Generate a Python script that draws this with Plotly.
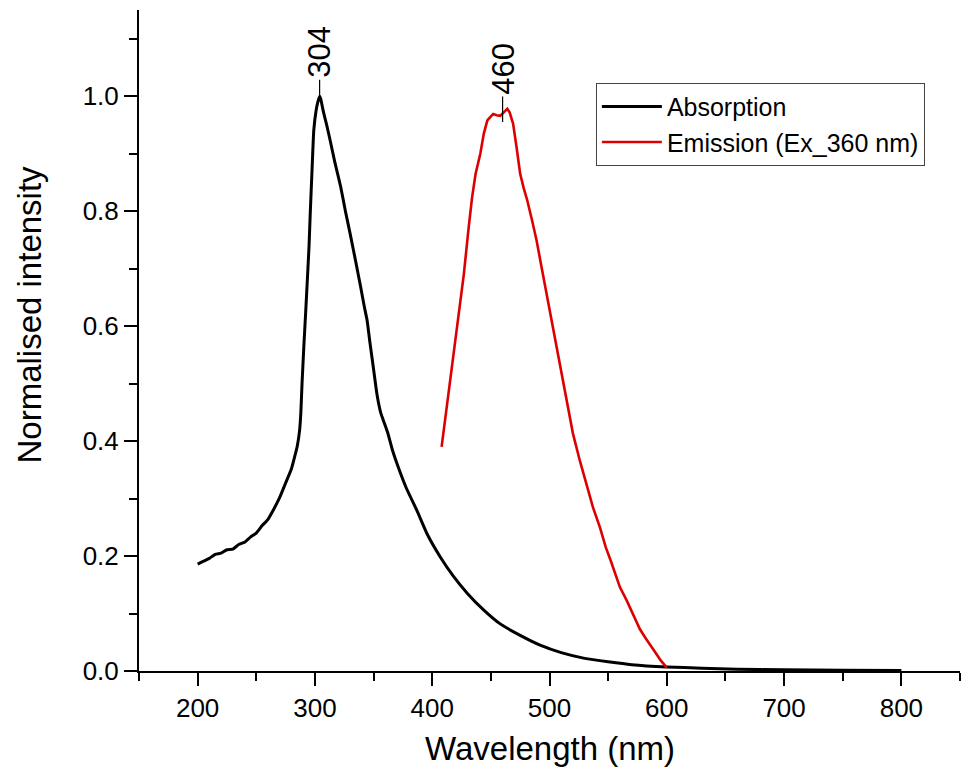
import plotly.graph_objects as go

# Absorption spectrum (wavelength nm, normalised intensity)
abs_wl = [200, 205, 210, 215, 220, 225, 230, 235, 240, 245, 250, 255, 260, 265, 270,
          275, 280, 283, 285, 287, 288, 289, 290.5, 292, 293.5, 295, 296, 297.5, 299,
          301, 302.5, 304, 305, 307, 310, 313, 317, 322, 326, 330, 335, 339, 342,
          344.5, 347, 350, 353, 356, 358, 362, 366, 371, 378, 387, 396, 407, 418,
          430, 444, 458, 475, 492, 510, 530, 550, 570, 600, 630, 660, 700, 750, 800]
abs_val = [0.186, 0.191, 0.196, 0.203, 0.205, 0.211, 0.212, 0.220, 0.224, 0.233, 0.240,
           0.253, 0.264, 0.282, 0.302, 0.327, 0.352, 0.375, 0.392, 0.420, 0.450, 0.500,
           0.563, 0.620, 0.679, 0.740, 0.796, 0.870, 0.940, 0.975, 0.990, 1.000, 0.995,
           0.975, 0.950, 0.923, 0.885, 0.842, 0.800, 0.761, 0.710, 0.668, 0.635, 0.610,
           0.570, 0.525, 0.480, 0.450, 0.438, 0.415, 0.385, 0.355, 0.318, 0.279, 0.237,
           0.198, 0.165, 0.135, 0.106, 0.082, 0.062, 0.045, 0.032, 0.022, 0.016, 0.011,
           0.007, 0.005, 0.003, 0.002, 0.0012, 0.001]

# Emission spectrum (Ex 360 nm)
em_wl = [408, 413, 418, 423, 427, 431, 434, 437, 441, 444, 447, 450, 452, 455, 458,
         461, 464, 466, 469, 472, 475, 478, 481, 485, 489, 493, 498, 503, 509, 515,
         520, 526, 532, 537, 543, 548, 552, 556, 560, 566, 571, 577, 582, 586, 590,
         595, 600]
em_val = [0.390, 0.470, 0.546, 0.625, 0.691, 0.770, 0.824, 0.865, 0.900, 0.935, 0.958,
          0.965, 0.969, 0.967, 0.966, 0.972, 0.978, 0.972, 0.952, 0.910, 0.865, 0.840,
          0.819, 0.785, 0.749, 0.705, 0.650, 0.595, 0.529, 0.470, 0.413, 0.365, 0.320,
          0.285, 0.250, 0.215, 0.193, 0.168, 0.146, 0.122, 0.100, 0.073, 0.057, 0.046,
          0.033, 0.018, 0.006]

# Peak labels
peak_x = [304, 460]
peak_y = [1.0, 0.955]
peak_text = ["304", "460"]
peak_ay = [-44, -53]

x_ticks = [200, 300, 400, 500, 600, 700, 800]
y_ticks = [0.0, 0.2, 0.4, 0.6, 0.8, 1.0]

FONT = "Liberation Sans, Arial, sans-serif"

fig = go.Figure()
fig.add_trace(go.Scatter(x=abs_wl, y=abs_val, mode="lines", name="Absorption",
                         line=dict(color="black", width=3, shape="spline", smoothing=0.4)))
fig.add_trace(go.Scatter(x=em_wl, y=em_val, mode="lines", name="Emission (Ex_360 nm)",
                         line=dict(color="#dd0000", width=2.6)))

for px, py, t, ay in zip(peak_x, peak_y, peak_text, peak_ay):
    fig.add_annotation(x=px, y=py, text=t, textangle=-90, showarrow=True,
                       arrowhead=0, arrowwidth=1.2, arrowcolor="black",
                       ax=0, ay=ay, font=dict(family=FONT, size=31, color="black"))

fig.add_annotation(text="Wavelength (nm)", xref="paper", yref="paper", x=0.5, y=-0.117,
                   xanchor="center", yanchor="middle", showarrow=False,
                   font=dict(family=FONT, size=33, color="black"))
fig.add_annotation(text="Normalised intensity", xref="paper", yref="paper", x=-0.133, y=0.539,
                   xanchor="center", yanchor="middle", showarrow=False, textangle=-90,
                   font=dict(family=FONT, size=33, color="black"))

axis_common = dict(showgrid=False, zeroline=False, showline=True, linecolor="black",
                   linewidth=2, ticks="outside", tickcolor="black", tickwidth=2,
                   ticklen=13, mirror=False,
                   tickfont=dict(family=FONT, size=26, color="black"),
                   minor=dict(ticks="outside", ticklen=8, tickwidth=2, tickcolor="black",
                              showgrid=False))

fig.update_xaxes(range=[150, 850], tickvals=x_ticks, ticktext=[str(v) for v in x_ticks],
                 minor_dtick=50, minor_tick0=150, **axis_common)
fig.update_yaxes(range=[0, 1.15], tickvals=y_ticks, ticktext=[f"{v:.1f}" for v in y_ticks],
                 minor_dtick=0.1, minor_tick0=0, **axis_common)

fig.update_layout(
    width=969, height=781,
    margin=dict(l=131, r=17, t=2, b=118),
    plot_bgcolor="white", paper_bgcolor="white",
    font=dict(family=FONT, color="black"),
    showlegend=True,
    legend=dict(x=0.5565, y=0.890, xanchor="left", yanchor="top",
                bgcolor="white", bordercolor="#444", borderwidth=1,
                font=dict(family=FONT, size=25, color="black"),
                tracegroupgap=0, itemwidth=60),
)

fig.write_html("out.html")
